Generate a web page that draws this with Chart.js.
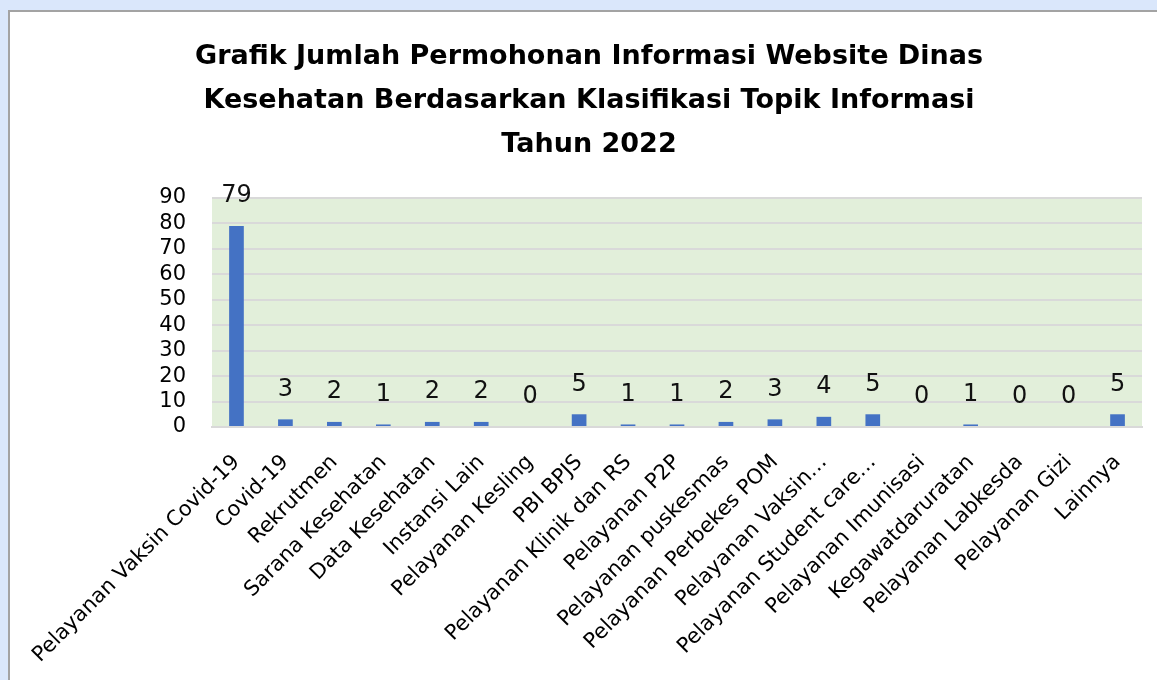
<!DOCTYPE html>
<html>
<head>
  <title>Grafik Jumlah Permohonan Informasi</title>
  <script src="https://cdn.jsdelivr.net/npm/chart.js@4.4.0/dist/chart.umd.min.js"></script>
  <style>
    html, body { margin: 0; padding: 0; background: #dae7fb; overflow: hidden; }
    #card { position: absolute; left: 8px; top: 10px; width: 1200px; height: 720px; background: #fff; border: 2px solid #a3a3a3; }
    #wrap { position: absolute; left: 0; top: 0; width: 1157px; height: 680px; }
  </style>
</head>
<body>
  <div id="card"></div>
  <div id="wrap"><canvas id="chart"></canvas></div>
  <script>
    // Data
    var titleLines = [
      "Grafik Jumlah Permohonan Informasi Website Dinas",
      "Kesehatan Berdasarkan Klasifikasi Topik Informasi",
      "Tahun 2022"
    ];
    var categories = [
      "Pelayanan Vaksin Covid-19", "Covid-19", "Rekrutmen", "Sarana Kesehatan",
      "Data Kesehatan", "Instansi Lain", "Pelayanan Kesling", "PBI BPJS",
      "Pelayanan Klinik dan RS", "Pelayanan P2P", "Pelayanan puskesmas",
      "Pelayanan Perbekes POM", "Pelayanan Vaksin…", "Pelayanan Student care…",
      "Pelayanan Imunisasi", "Kegawatdaruratan", "Pelayanan Labkesda",
      "Pelayanan Gizi", "Lainnya"
    ];
    var values = [79, 3, 2, 1, 2, 2, 0, 5, 1, 1, 2, 3, 4, 5, 0, 1, 0, 0, 5];
    var yMax = 90;
    var yStep = 10;

    var fontName = "'DejaVu Sans', sans-serif";

    // green plot area
    var plotBg = {
      id: "plotBg",
      beforeDraw: function (chart) {
        var a = chart.chartArea, c = chart.ctx;
        c.save();
        c.fillStyle = "#e2efda";
        c.fillRect(a.left, a.top, a.right - a.left, a.bottom - a.top);
        c.restore();
      }
    };

    // value labels above the bars
    var valueLabels = {
      id: "valueLabels",
      afterDatasetsDraw: function (chart) {
        var c = chart.ctx;
        var meta = chart.getDatasetMeta(0);
        c.save();
        c.font = "24px " + fontName;
        c.fillStyle = "#111";
        c.textAlign = "center";
        c.textBaseline = "middle";
        meta.data.forEach(function (bar, i) {
          c.fillText(String(values[i]), bar.x, bar.y - 30);
        });
        c.restore();
      }
    };

    var ctx = document.getElementById("chart").getContext("2d");
    var chart = new Chart(ctx, {
      type: "bar",
      data: {
        labels: categories,
        datasets: [{
          data: values,
          backgroundColor: "#4472c4",
          barPercentage: 0.3,
          categoryPercentage: 1
        }]
      },
      options: {
        responsive: true,
        maintainAspectRatio: false,
        animation: false,
        layout: { padding: { left: 36, right: 15, top: 0, bottom: 0 } },
        plugins: {
          legend: { display: false },
          tooltip: { enabled: false },
          title: {
            display: true,
            text: titleLines,
            color: "#000",
            font: { family: fontName, size: 27, weight: "bold", lineHeight: 1.63 },
            padding: { top: 35, bottom: 31 }
          }
        },
        scales: {
          x: {
            grid: { display: false },
            border: { color: "#d9d9d9", width: 2 },
            ticks: {
              color: "#000",
              font: { family: fontName, size: 21 },
              maxRotation: 45,
              minRotation: 45,
              autoSkip: false,
              padding: 15
            },
            afterFit: function (scale) { scale.height = 253; }
          },
          y: {
            min: 0,
            max: yMax,
            grid: { color: "#d9d9d9", lineWidth: 2, drawTicks: false },
            border: { display: false },
            ticks: {
              stepSize: yStep,
              autoSkip: false,
              color: "#000",
              font: { family: fontName, size: 21 },
              padding: 26
            },
            afterFit: function (scale) { scale.width = 176; }
          }
        }
      },
      plugins: [plotBg, valueLabels]
    });
  </script>
</body>
</html>
